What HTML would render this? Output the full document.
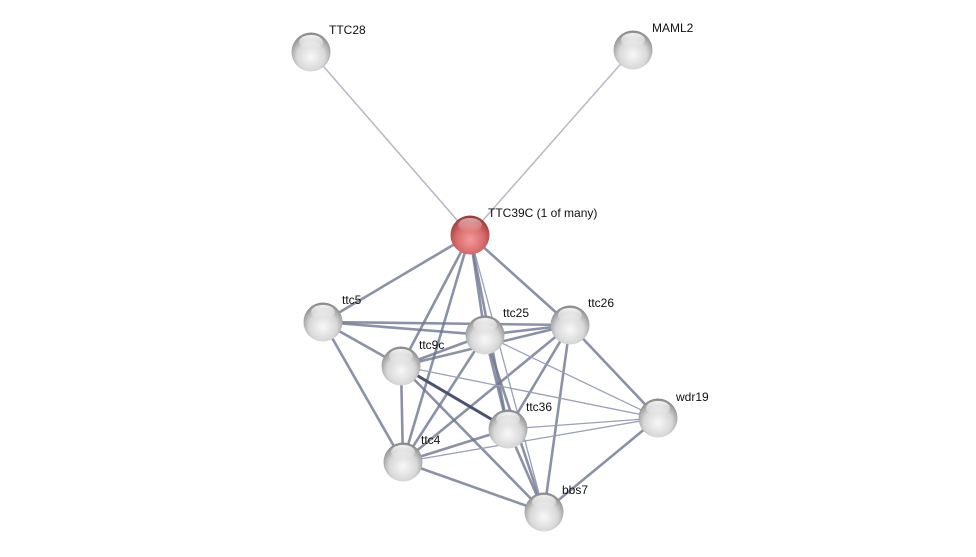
<!DOCTYPE html>
<html><head><meta charset="utf-8"><style>
html,body{margin:0;padding:0;background:#fff;}
svg{display:block;}
text{font-family:"Liberation Sans",sans-serif;font-size:12px;fill:#111;}
</style></head><body>
<svg width="976" height="557" viewBox="0 0 976 557">
<defs>
<radialGradient id="g" cx="0.5" cy="0.62" r="0.6">
<stop offset="0" stop-color="#f8f8f8"/><stop offset="0.6" stop-color="#d8d8d8"/><stop offset="1" stop-color="#8a8a8a"/>
</radialGradient>
<radialGradient id="r" cx="0.5" cy="0.62" r="0.6">
<stop offset="0" stop-color="#f59a9a"/><stop offset="0.6" stop-color="#d86a6a"/><stop offset="1" stop-color="#9a3a3a"/>
</radialGradient>
<linearGradient id="hl" x1="0" y1="0" x2="0" y2="1">
<stop offset="0" stop-color="#fff" stop-opacity="0.9"/><stop offset="1" stop-color="#fff" stop-opacity="0"/>
</linearGradient>
</defs>
<g stroke="#b8b8c4" stroke-width="1.5">
<line x1="311" y1="52" x2="470" y2="235"/>
<line x1="633" y1="50" x2="470" y2="235"/>
</g>
<g stroke="#6e7590" stroke-width="2.6" stroke-opacity="0.8">
<line x1="470" y1="235" x2="323" y2="322"/>
<line x1="470" y1="235" x2="401" y2="366"/>
<line x1="470" y1="235" x2="403" y2="462"/>
<line x1="470" y1="235" x2="485" y2="335"/>
<line x1="470" y1="235" x2="508" y2="429"/>
<line x1="470" y1="235" x2="570" y2="325"/>
<line x1="323" y1="322" x2="485" y2="335"/>
<line x1="323" y1="322" x2="570" y2="325"/>
<line x1="323" y1="322" x2="401" y2="366"/>
<line x1="323" y1="322" x2="403" y2="462"/>
<line x1="401" y1="366" x2="485" y2="335"/>
<line x1="401" y1="366" x2="570" y2="325"/>
<line x1="401" y1="366" x2="403" y2="462"/>
<line x1="401" y1="366" x2="544" y2="512"/>
<line x1="485" y1="335" x2="570" y2="325"/>
<line x1="485" y1="335" x2="403" y2="462"/>
<line x1="485" y1="335" x2="508" y2="429"/>
<line x1="485" y1="335" x2="544" y2="512"/>
<line x1="570" y1="325" x2="403" y2="462"/>
<line x1="570" y1="325" x2="508" y2="429"/>
<line x1="570" y1="325" x2="544" y2="512"/>
<line x1="570" y1="325" x2="658" y2="418"/>
<line x1="508" y1="429" x2="403" y2="462"/>
<line x1="508" y1="429" x2="544" y2="512"/>
<line x1="403" y1="462" x2="544" y2="512"/>
<line x1="658" y1="418" x2="544" y2="512"/>
</g>
<line x1="401" y1="366" x2="508" y2="429" stroke="#4a5270" stroke-width="3"/>
<g stroke="#9aa0b8" stroke-width="1.3">
<line x1="401" y1="366" x2="658" y2="418"/>
<line x1="485" y1="335" x2="658" y2="418"/>
<line x1="508" y1="429" x2="658" y2="418"/>
<line x1="403" y1="462" x2="658" y2="418"/>
<line x1="470" y1="235" x2="544" y2="512"/>
</g>
<g>
<circle cx="311" cy="52" r="19.5" fill="url(#g)"/>
<circle cx="633" cy="50" r="19.5" fill="url(#g)"/>
<circle cx="323" cy="322" r="19.5" fill="url(#g)"/>
<circle cx="485" cy="335" r="19.5" fill="url(#g)"/>
<circle cx="570" cy="325" r="19.5" fill="url(#g)"/>
<circle cx="401" cy="366" r="19.5" fill="url(#g)"/>
<circle cx="658" cy="418" r="19.5" fill="url(#g)"/>
<circle cx="508" cy="429" r="19.5" fill="url(#g)"/>
<circle cx="403" cy="462" r="19.5" fill="url(#g)"/>
<circle cx="544" cy="512" r="19.5" fill="url(#g)"/>
<circle cx="470" cy="235" r="19.5" fill="url(#r)"/>
</g>
<g fill="url(#hl)">
<ellipse cx="311" cy="42" rx="12" ry="7"/><ellipse cx="633" cy="40" rx="12" ry="7"/>
<ellipse cx="323" cy="312" rx="12" ry="7"/><ellipse cx="485" cy="325" rx="12" ry="7"/>
<ellipse cx="570" cy="315" rx="12" ry="7"/><ellipse cx="401" cy="356" rx="12" ry="7"/>
<ellipse cx="658" cy="408" rx="12" ry="7"/><ellipse cx="508" cy="419" rx="12" ry="7"/>
<ellipse cx="403" cy="452" rx="12" ry="7"/><ellipse cx="544" cy="502" rx="12" ry="7"/>
<ellipse cx="470" cy="225" rx="12" ry="7" opacity="0.6"/>
</g>
<text x="329" y="34">TTC28</text>
<text x="652" y="32">MAML2</text>
<text x="488" y="217">TTC39C (1 of many)</text>
<text x="342" y="304">ttc5</text>
<text x="503" y="317">ttc25</text>
<text x="588" y="307">ttc26</text>
<text x="419" y="349">ttc9c</text>
<text x="676" y="401">wdr19</text>
<text x="526" y="411">ttc36</text>
<text x="421" y="444">ttc4</text>
<text x="562" y="494">bbs7</text>
</svg>
</body></html>
